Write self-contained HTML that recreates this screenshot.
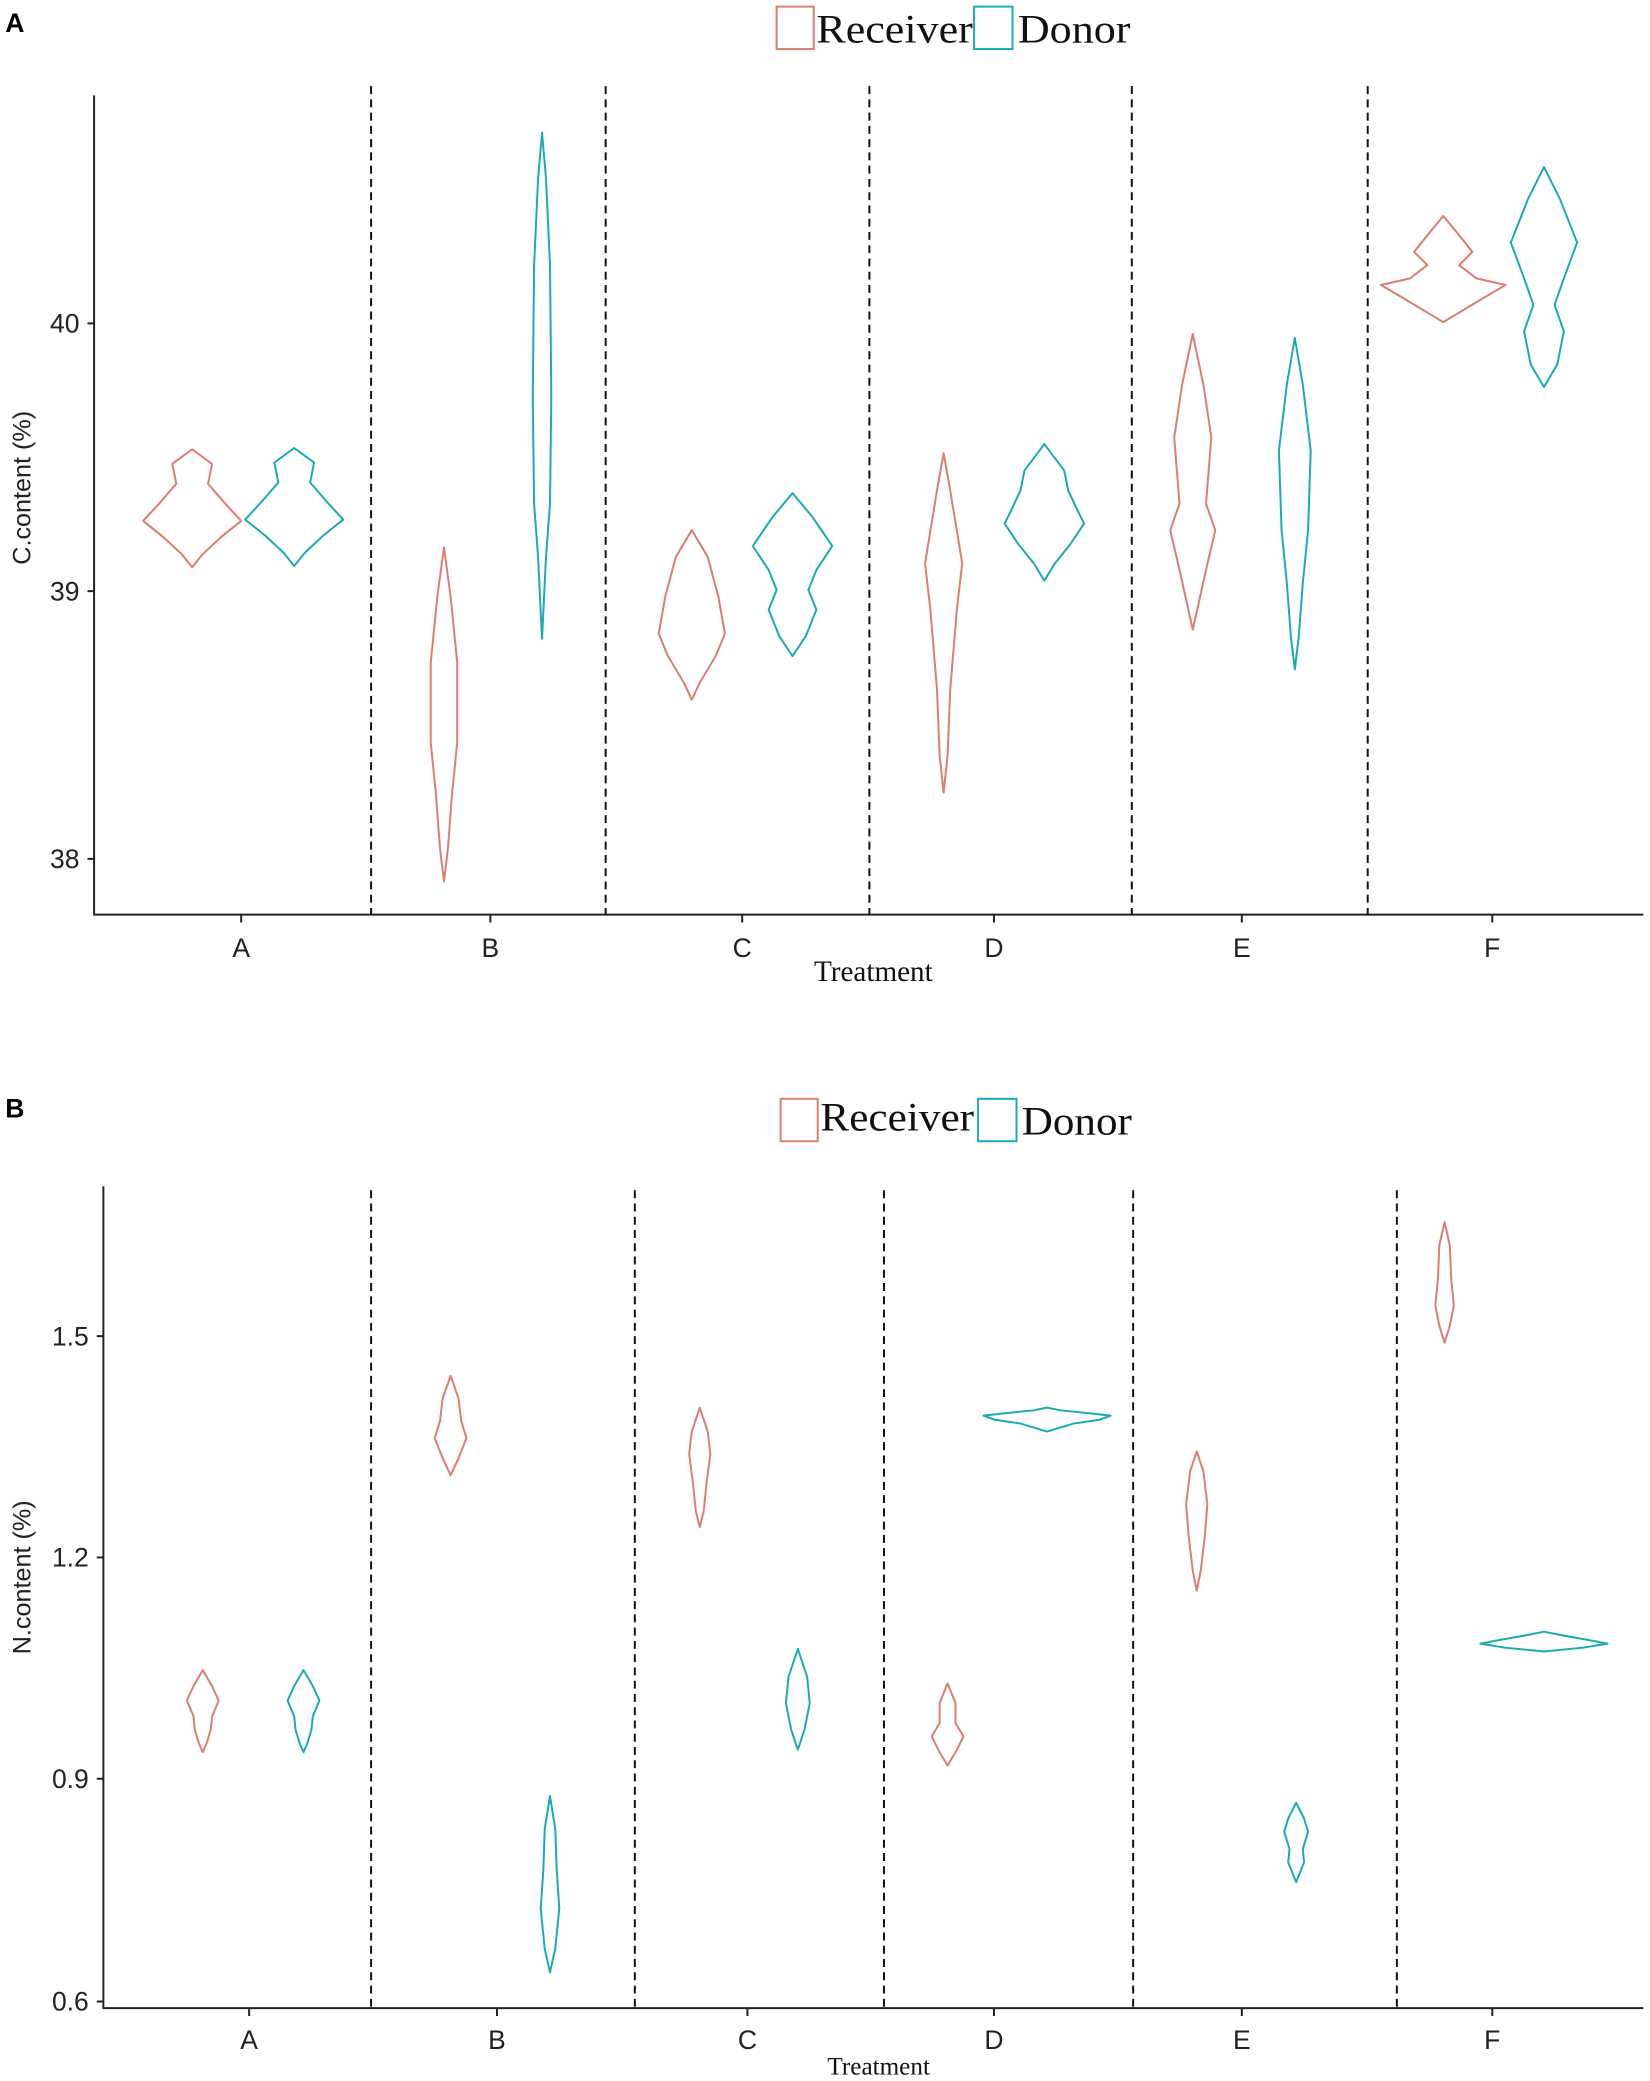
<!DOCTYPE html>
<html><head><meta charset="utf-8"><style>html,body{margin:0;padding:0;background:#fff}svg{display:block}</style></head>
<body>
<svg id="s" width="1650" height="2081" viewBox="0 0 1245 1570" preserveAspectRatio="none" xmlns="http://www.w3.org/2000/svg">
<g font-family="Liberation Sans, sans-serif" fill="#222">
<text x="4" y="24" font-size="20" font-weight="bold" fill="#000">A</text>
<text x="4" y="843" font-size="20" font-weight="bold" fill="#000">B</text>
</g>
<g fill="none" stroke-width="1.5">
<rect x="586" y="5" width="28" height="32" stroke="#E07B72"/>
<rect x="735" y="5" width="29" height="32" stroke="#1AABB0"/>
<rect x="589" y="829" width="28" height="32" stroke="#E07B72"/>
<rect x="738" y="829" width="29" height="32" stroke="#1AABB0"/>
</g>
<g font-family="Liberation Serif, serif" font-size="30" fill="#111">
<text x="616" y="32" textLength="118" lengthAdjust="spacingAndGlyphs">Receiver</text><text x="768" y="32" textLength="85" lengthAdjust="spacingAndGlyphs">Donor</text>
<text x="619" y="853" textLength="116" lengthAdjust="spacingAndGlyphs">Receiver</text><text x="771" y="856" textLength="83" lengthAdjust="spacingAndGlyphs">Donor</text>
<text x="659" y="740" font-size="22" text-anchor="middle">Treatment</text>
<text x="663" y="1565" font-size="19" text-anchor="middle">Treatment</text>
</g>
<g stroke="#222" stroke-width="1.5" fill="none">
<path d="M71 72 V690 H1240"/>
<path d="M78 895 V1515 H1240"/>
<path d="M66 244H71M66 446H71M66 648H71"/>
<path d="M73 1008H78M73 1175H78M73 1342H78M73 1510H78"/>
<path d="M182 690v6M370 690v6M560 690v6M750 690v6M937 690v6M1126 690v6"/>
<path d="M188 1515v6M375 1515v6M564 1515v6M750 1515v6M937 1515v6M1126 1515v6"/>
</g>
<g stroke="#111" stroke-width="1.5" stroke-dasharray="6,4">
<path d="M280 65V690M457 65V690M656 65V690M854 65V690M1032 65V690"/>
<path d="M280 898V1515M479 898V1515M667 898V1515M855 898V1515M1054 898V1515"/>
</g>
<g font-family="Liberation Sans, sans-serif" font-size="20" fill="#222" text-anchor="end">
<text x="60" y="251">40</text><text x="60" y="453">39</text><text x="60" y="655">38</text>
<text x="67" y="1015">1.5</text><text x="67" y="1182">1.2</text><text x="67" y="1349">0.9</text><text x="67" y="1517">0.6</text>
</g>
<g font-family="Liberation Sans, sans-serif" font-size="20" fill="#222" text-anchor="middle">
<text x="182" y="722">A</text><text x="370" y="722">B</text><text x="560" y="722">C</text><text x="750" y="722">D</text><text x="937" y="722">E</text><text x="1126" y="722">F</text>
<text x="188" y="1546">A</text><text x="375" y="1546">B</text><text x="564" y="1546">C</text><text x="750" y="1546">D</text><text x="937" y="1546">E</text><text x="1126" y="1546">F</text>
<text transform="translate(23,368) rotate(-90)" font-size="19">C.content (%)</text>
<text transform="translate(23,1190) rotate(-90)" font-size="19">N.content (%)</text>
</g>
<g id="v" fill="none" stroke-width="1.5"></g>
</svg>
<script>
var R="#E07B72",C="#1AABB0";
var V=[
[145,R,[[339,0],[350,15],[365,12],[380,25],[393,37],[405,22],[418,8],[428,0]]],
[222,C,[[338,0],[349,15],[364,12],[379,25],[392,37],[404,22],[417,8],[427,0]]],
[335,R,[[413,0],[450,5],[500,10],[560,10],[600,6],[640,3],[665,0]]],
[409,C,[[100,0],[135,3],[200,6],[300,7],[380,6],[420,3],[482,0]]],
[522,R,[[400,0],[420,12],[450,20],[478,25],[495,18],[515,6],[528,0]]],
[598,C,[[372,0],[390,15],[412,30],[430,18],[445,12],[460,18],[480,10],[495,0]]],
[712,R,[[342,0],[370,5],[425,14],[460,10],[520,5],[570,3],[598,0]]],
[788,C,[[335,0],[355,15],[370,18],[385,25],[395,30],[410,20],[425,8],[438,0]]],
[900,R,[[252,0],[290,8],[330,14],[380,10],[400,17],[430,10],[475,0]]],
[977,C,[[255,0],[290,6],[340,12],[400,10],[440,6],[480,3],[505,0]]],
[1089,R,[[163,0],[175,10],[190,22],[200,12],[210,25],[215,47],[225,30],[243,0]]],
[1165,C,[[126,0],[150,12],[183,25],[210,15],[230,8],[250,15],[275,10],[292,0]]],
[153,R,[[1260,0],[1272,7],[1283,12],[1295,7],[1305,6],[1315,3],[1322,0]]],
[229,C,[[1260,0],[1272,7],[1283,12],[1295,7],[1305,6],[1315,3],[1322,0]]],
[340,R,[[1038,0],[1055,6],[1072,8],[1085,12],[1100,6],[1113,0]]],
[415,C,[[1355,0],[1380,4],[1410,5],[1440,7],[1470,4],[1488,0]]],
[528,R,[[1062,0],[1080,6],[1097,8],[1120,5],[1140,3],[1152,0]]],
[602,C,[[1244,0],[1265,7],[1285,9],[1305,5],[1320,0]]],
[715,R,[[1270,0],[1285,6],[1300,6],[1310,12],[1322,6],[1332,0]]],
[790,C,[[1062,0],[1064,10],[1066,30],[1068,48],[1071,40],[1074,20],[1077,10],[1080,0]]],
[903,R,[[1095,0],[1110,5],[1135,8],[1160,6],[1185,3],[1200,0]]],
[978,C,[[1360,0],[1372,6],[1382,9],[1395,5],[1405,6],[1420,0]]],
[1090,R,[[922,0],[940,4],[965,5],[985,7],[1000,4],[1013,0]]],
[1165,C,[[1231,0],[1234,15],[1237,32],[1240,48],[1243,30],[1246,0]]]
];
var g=document.getElementById("v"),h="";
V.forEach(function(v){var x=v[0],p=v[2],d="M"+x+" "+p[0][0];
for(var i=1;i<p.length;i++)d+=" L"+(x+p[i][1])+" "+p[i][0];
for(var i=p.length-2;i>=0;i--)d+=" L"+(x-p[i][1])+" "+p[i][0];
h+='<path d="'+d+'Z" stroke="'+v[1]+'" stroke-linejoin="round"/>';});
g.innerHTML=h;
</script>
</body></html>
